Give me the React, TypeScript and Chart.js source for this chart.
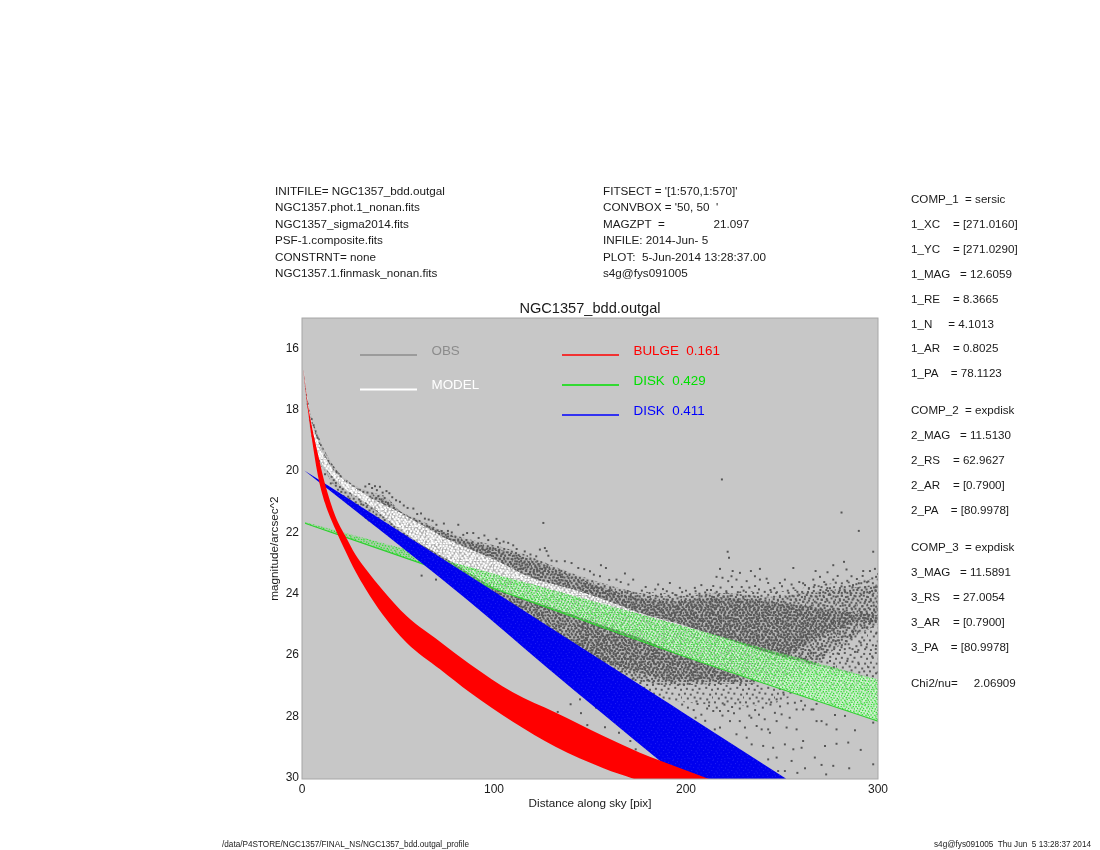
import { useEffect, useRef } from "react";
import { Chart, registerables } from "chart.js";

Chart.register(...registerables);

const xTicks = [0, 100, 200, 300];
const yTicks = [16, 18, 20, 22, 24, 26, 28, 30];

// band edges, distance [pix] vs magnitude/arcsec^2
const obsX = [0.7, 4, 8, 12, 18, 24, 30, 37, 44, 51, 60, 68, 75, 82, 112, 138, 164, 176, 193, 219, 245, 263, 280, 300];
const obsTop = [16.7, 18.0, 18.75, 19.35, 19.95, 20.32, 20.55, 20.7, 20.85, 21.3, 21.55, 21.8, 21.98, 22.13, 22.62, 23.27, 23.8, 23.98, 24.1, 23.98, 24.1, 23.95, 23.85, 23.7];
const obsBottom = [16.8, 18.5, 19.6, 20.0, 20.6, 21.0, 21.4, 21.75, 22.0, 22.3, 22.7, 23.0, 23.3, 23.6, 24.8, 25.8, 26.6, 26.85, 27.0, 26.95, 26.9, 26.5, 25.7, 25.0];
const obsCoreX = [36, 44, 51, 60, 68, 82, 112, 138, 164, 176, 193, 219, 235, 250, 285, 300];
const obsCoreTop = [20.75, 20.95, 21.3, 21.6, 21.85, 22.2, 22.72, 23.35, 23.95, 24.12, 24.25, 24.12, 24.2, 24.3, 24.6, 24.7];
const obsCoreBottom = [21.2, 21.5, 21.75, 22.3, 23.0, 23.6, 24.7, 25.7, 26.4, 26.6, 26.8, 26.8, 26.6, 26.1, 25.0, 24.9];
const obsFaintX = [145, 176, 200, 232, 250, 266, 300];
const obsFaintTop = [23.7, 23.92, 24.0, 23.92, 23.92, 23.75, 23.5];
const obsFaintBottom = [26.6, 27.25, 27.55, 27.65, 27.5, 27.0, 27.4];

const modelX = [1, 4, 8, 15, 22, 29, 35, 48, 65, 75, 103, 120, 138, 155, 176, 197, 249, 300];
const modelTop = [16.75, 18.1, 18.95, 19.85, 20.3, 20.6, 20.85, 21.25, 21.85, 22.2, 22.97, 23.49, 23.81, 24.14, 24.63, 25.0, 26.04, 26.8];
const modelBottom = [16.8, 18.35, 19.45, 20.1, 20.55, 20.85, 21.1, 21.75, 22.5, 22.85, 23.9, 24.25, 24.62, 25.0, 25.45, 26.0, 27.1, 28.16];

const bulgeX = [0.7, 3, 5.2, 8.7, 12, 17.4, 22.6, 27.8, 33.3, 42, 54.5, 71.9, 87.5, 110, 132, 157, 176, 187, 212];
const bulgeTop = [16.7, 17.8, 18.55, 19.55, 20.42, 21.47, 22.12, 22.72, 23.2, 23.88, 24.73, 25.57, 26.3, 27.23, 27.88, 28.65, 29.19, 29.46, 30.05];
const bulgeBottom = [16.74, 17.95, 18.97, 20.27, 21.05, 21.9, 22.61, 23.27, 23.86, 24.68, 25.6, 26.47, 27.23, 28.19, 29.0, 29.7, 30.12, 30.4, 31.0];

const disk1X = [1.6, 103, 197, 300];
const disk1Top = [21.66, 23.4, 25.03, 26.8];
const disk1Bottom = [21.7, 23.9, 26.0, 28.16];

const disk2X = [1.2, 30, 85.7, 127.4, 186.5, 198, 252];
const disk2Top = [19.98, 21.13, 23.36, 25.03, 27.4, 27.86, 30.03];
const disk2Bottom = [19.98, 21.4, 24.18, 26.4, 29.46, 30.05, 32.8];

// single obs pixels that stick out of the dense cloud
const obsInner: [number, number][] = [
  [3, 17.8], [5, 18.3], [6, 18.5], [7, 18.7], [8, 18.9], [9, 19.1], [10, 19.3], [12, 19.55], [14, 19.75], [16, 19.95], [18, 20.05], [20, 20.2], [23, 20.35], [26, 20.5], [29, 20.6], [12, 20.1], [15, 20.4], [18, 20.7], [21, 20.85], [24, 21.05],
];
const obsRidge: [number, number][] = [
  [33, 20.5], [35, 20.42], [36.5, 20.55], [38, 20.49], [39, 20.62], [40.6, 20.51], [42, 20.7], [44, 20.65], [45.5, 20.72], [47, 20.85], [49, 20.95], [51, 21.0], [53, 21.12], [55, 21.2], [58, 21.22], [60, 21.4], [62, 21.38], [64, 21.55], [66, 21.58], [68, 21.62], [70, 21.75], [72.7, 21.96], [73.9, 21.71], [76, 21.95], [78, 22.0], [81.4, 21.75], [84, 22.08], [86, 22.02], [89.2, 22.02], [92, 22.18], [95, 22.1], [97, 22.25], [101.3, 22.21], [103, 22.35], [105, 22.3], [107.4, 22.34], [110, 22.42], [111.8, 22.54], [116, 22.62], [119, 22.72], [122, 22.78], [123.9, 22.56], [126.5, 22.51], [127.4, 22.61], [128.3, 22.76], [125.7, 21.69], [130, 22.92], [132.6, 22.94], [136.9, 22.94], [140.4, 23.0], [143.9, 23.16], [150, 23.27], [155.2, 23.43], [155.7, 23.07], [158.3, 23.16], [163.8, 23.54], [168.2, 23.34], [172.5, 23.54], [147, 23.2], [152, 23.38], [160, 23.55], [166, 23.62], [170, 23.7],
];
const obsAbove: [number, number][] = [
  [221.7, 22.63], [222.4, 22.83], [217.7, 23.19], [224.3, 23.26], [228.1, 23.32], [233.8, 23.26], [238.5, 23.19], [255.9, 23.16], [267.5, 23.26], [273.7, 23.3], [282.3, 22.96], [276.7, 23.07], [297.5, 22.63], [215.9, 23.45], [219, 23.48], [223.7, 23.43], [222, 23.59], [226.3, 23.54], [231.6, 23.59], [235.9, 23.43], [238.5, 23.54], [242, 23.51], [242.8, 23.65], [251.5, 23.54], [248.9, 23.65], [266.3, 23.54], [269.8, 23.45], [276.7, 23.54], [283.6, 23.21], [286.2, 23.43], [292.3, 23.26], [295.8, 23.26], [298.4, 23.19], [185.5, 23.7], [191.6, 23.65], [196.8, 23.81], [204.6, 23.81], [214.2, 23.75], [179, 23.78], [188, 23.85], [200, 23.9], [208, 23.72], [211, 23.88], [229, 23.78], [236, 23.75], [246, 23.82], [255, 23.7], [259, 23.62], [262, 23.72], [272, 23.62], [279, 23.42], [289, 23.52], [293, 23.6], [299, 23.45],
  [177, 23.9], [181, 23.98], [184, 23.86], [187, 24.02], [190, 23.92], [193, 23.98], [195, 24.05], [198, 23.95], [202, 24.02], [205, 23.92], [207, 24.0], [210, 23.96], [213, 23.88], [216, 23.94], [218, 23.8], [221, 23.92], [224, 23.78], [227, 23.95], [230, 23.9], [233, 23.8], [235, 23.98], [238, 23.86], [241, 23.94], [244, 23.88], [247, 23.98], [250, 23.76], [253, 23.9], [256, 23.82], [258, 23.94], [261, 23.66], [264, 23.84], [267, 23.72], [270, 23.88], [273, 23.7], [275, 23.82], [278, 23.64], [281, 23.76], [284, 23.58], [287, 23.72], [290, 23.66], [292, 23.42], [295, 23.6], [297, 23.5], [300, 23.36],
];
const obsRightSide: [number, number][] = [
  [276, 24.95], [279, 25.3], [282, 25.1], [284, 24.95], [287, 25.25], [289, 25.0], [291, 24.6], [293, 25.1], [295, 24.75], [297, 24.9], [299, 25.3], [298, 24.55], [278, 25.55], [281, 25.75], [283, 25.65], [286, 25.4], [288, 25.9], [291, 25.6], [294, 25.75], [297, 26.05], [299, 25.7], [272, 26.0], [275, 26.2], [268, 26.05], [279, 25.95], [284, 26.2], [290, 26.3], [295, 26.4], [299, 26.6], [277, 26.4], [271, 25.7], [265, 25.95],
];
const obsBelow: [number, number][] = [
  [266.3, 27.78], [270.6, 28.16], [268, 28.16], [273.2, 28.27], [278.4, 28.43], [288, 28.46], [297.5, 28.21], [282.8, 27.99], [277.6, 27.96], [261, 28.81], [261, 27.78], [254, 28.05], [249.8, 27.94], [246.3, 27.89], [242.8, 28.43], [243.7, 28.54], [239.4, 28.43], [236.8, 28.32], [230.7, 28.37], [228, 28.16], [222.9, 28.16], [217.7, 28.37], [215, 28.43], [222, 27.83], [217.7, 27.83], [214.2, 27.83], [226.3, 28.59], [231.6, 28.7], [234.2, 28.92], [240.2, 28.97], [245.4, 29.03], [251.5, 28.92], [255.9, 29.08], [260.2, 29.03], [272.4, 28.97], [278.4, 28.9], [267.1, 29.35], [270.6, 29.59], [276.7, 29.62], [284.5, 28.86], [297.5, 29.57], [242.8, 29.41], [247.2, 29.35], [248, 29.79], [251.5, 29.79], [255, 29.46], [247.2, 28.16], [252.4, 28.37], [257.6, 28.43], [256.7, 27.56], [250.7, 27.23], [247.2, 27.45], [257.6, 27.78], [265.4, 27.78], [271.5, 27.23],
  [204, 27.8], [208, 27.95], [211, 27.75], [219, 27.98], [225, 27.9], [234, 28.05], [238, 27.95], [241, 28.1], [210, 28.15], [205, 28.05], [233, 27.98], [260, 27.5], [262, 27.65], [268, 27.6], [299.5, 27.9], [291, 29.1], [285, 29.7], [262, 29.7], [258, 29.85], [273, 29.9],
  [198, 27.62], [201, 27.72], [206, 27.6], [212, 27.66], [216, 27.72], [220, 27.62], [224, 27.7], [228, 27.75], [232, 27.68], [236, 27.8], [240, 27.72], [244, 27.62], [249, 27.68], [253, 27.58],
];
const obsStray: [number, number][] = [
  [62.3, 23.41], [69.8, 23.54], [133.2, 27.86], [139.9, 27.61], [144.8, 27.45], [145.3, 27.9], [148.6, 28.29], [157.8, 28.36], [153.1, 27.72], [165.1, 28.54], [171, 28.81], [173.8, 29.08], [218.7, 20.27], [281, 21.35], [290, 21.95],
];

const legendRows = [
  { label: "OBS", color: "#8c8c8c", width: 1.4, col: 0, row: 0 },
  { label: "MODEL", color: "#ffffff", width: 2, col: 0, row: 1 },
  { label: "BULGE  0.161", color: "#ff0000", width: 1.4, col: 1, row: 0 },
  { label: "DISK  0.429", color: "#00e000", width: 1.4, col: 1, row: 1 },
  { label: "DISK  0.411", color: "#0000ff", width: 1.4, col: 1, row: 2 },
];

const headerLeft = ["INITFILE= NGC1357_bdd.outgal", "NGC1357.phot.1_nonan.fits", "NGC1357_sigma2014.fits", "PSF-1.composite.fits", "CONSTRNT= none", "NGC1357.1.finmask_nonan.fits"];
const headerRight = ["FITSECT = '[1:570,1:570]'", "CONVBOX = '50, 50  '", "MAGZPT  =               21.097", "INFILE: 2014-Jun- 5", "PLOT:  5-Jun-2014 13:28:37.00", "s4g@fys091005"];
const comp1 = ["COMP_1  = sersic", "1_XC    = [271.0160]", "1_YC    = [271.0290]", "1_MAG   = 12.6059", "1_RE    = 8.3665", "1_N     = 4.1013", "1_AR    = 0.8025", "1_PA    = 78.1123"];
const comp2 = ["COMP_2  = expdisk", "2_MAG   = 11.5130", "2_RS    = 62.9627", "2_AR    = [0.7900]", "2_PA    = [80.9978]"];
const comp3 = ["COMP_3  = expdisk", "3_MAG   = 11.5891", "3_RS    = 27.0054", "3_AR    = [0.7900]", "3_PA    = [80.9978]"];
const chiLine = ["Chi2/nu=     2.06909"];

const FONT = "'Liberation Sans', Arial, sans-serif";

// small repeating speckle so the bands look like clouds of pixels
const SPECKLE = [[1, 2], [7, 1], [13, 3], [20, 0], [27, 2], [4, 6], [10, 7], [17, 6], [24, 5], [30, 7], [2, 11], [8, 12], [15, 10], [21, 11], [28, 12], [5, 16], [12, 15], [18, 16], [25, 17], [31, 15], [1, 20], [9, 21], [14, 19], [22, 21], [27, 20], [4, 25], [11, 24], [19, 26], [24, 25], [30, 24], [7, 29], [15, 29], [21, 30], [28, 29], [2, 30], [12, 28]];

function speckle(base: string, dot: string, side: number, dotSize: number) {
  const tile = document.createElement("canvas");
  tile.width = side;
  tile.height = side;
  const ctx = tile.getContext("2d")!;
  ctx.fillStyle = base;
  ctx.fillRect(0, 0, side, side);
  ctx.fillStyle = dot;
  SPECKLE.forEach(([x, y]) => {
    ctx.fillRect((x * side) / 32, (y * side) / 32, dotSize, dotSize);
  });
  return ctx.createPattern(tile, "repeat")!;
}

function toPoints(xs: number[], ys: number[]) {
  return xs.map((x, i) => ({ x, y: ys[i] }));
}

// two line datasets with the fill between them
function band(name: string, xs: number[], top: number[], bottom: number[], fill: any, order: number, edge = "transparent") {
  const common = { pointRadius: 0, cubicInterpolationMode: "monotone", order };
  return [
    { label: name, data: toPoints(xs, top), fill: "+1", backgroundColor: fill, borderColor: "transparent", borderWidth: 0, ...common },
    { label: name + " edge", data: toPoints(xs, bottom), fill: false, borderColor: edge, borderWidth: edge === "transparent" ? 0 : 1.2, ...common },
  ];
}

const plotFrame = {
  id: "plotFrame",
  beforeDraw(chart: any) {
    const { ctx, chartArea: a } = chart;
    ctx.save();
    ctx.fillStyle = "#c7c7c7";
    ctx.fillRect(a.left, a.top, a.right - a.left, a.bottom - a.top);
    ctx.restore();
  },
  afterDraw(chart: any) {
    const { ctx, chartArea: a } = chart;
    ctx.save();
    ctx.strokeStyle = "#a6a6a6";
    ctx.lineWidth = 1;
    ctx.strokeRect(a.left, a.top, a.right - a.left, a.bottom - a.top);
    ctx.restore();
  },
};

const legendInPlot = {
  id: "legendInPlot",
  afterDraw(chart: any) {
    const { ctx, chartArea: a } = chart;
    ctx.save();
    ctx.font = `13.4px ${FONT}`;
    ctx.textBaseline = "middle";
    legendRows.forEach((r) => {
      const lineLeft = a.left + (r.col === 0 ? 58 : 260);
      const rowStep = r.col === 0 ? 34.5 : 30;
      const lineY = a.top + 37 + r.row * rowStep;
      ctx.strokeStyle = r.color;
      ctx.lineWidth = r.width;
      ctx.beginPath();
      ctx.moveTo(lineLeft, lineY);
      ctx.lineTo(lineLeft + 57, lineY);
      ctx.stroke();
      ctx.fillStyle = r.color;
      ctx.fillText(r.label, lineLeft + 71.5, lineY - 4);
    });
    ctx.restore();
  },
};

function TextBlock({ lines, left, top, step, size = 11.7 }: { lines: string[]; left: number; top: number; step: number; size?: number }) {
  return (
    <>
      {lines.map((line, i) => (
        <div
          key={line}
          style={{
            position: "absolute",
            left,
            top: top + i * step - 8,
            height: 16,
            lineHeight: "16px",
            fontFamily: FONT,
            fontSize: size,
            color: "#1a1a1a",
            whiteSpace: "pre",
          }}
        >
          {line}
        </div>
      ))}
    </>
  );
}

export default function App() {
  const chartRef = useRef<HTMLCanvasElement>(null);

  useEffect(() => {
    if (!chartRef.current) return;
    const obsDots = [...obsInner, ...obsRidge, ...obsAbove, ...obsRightSide, ...obsBelow, ...obsStray].map(([x, y]) => ({ x, y }));

    const chart = new Chart(chartRef.current, {
      type: "line",
      data: {
        datasets: [
          ...band("BULGE", bulgeX, bulgeTop, bulgeBottom, "#ff0000", 1),
          ...band("DISK 0.411", disk2X, disk2Top, disk2Bottom, speckle("#0000ee", "rgba(120,120,255,0.3)", 20, 1), 2),
          ...band("DISK 0.429", disk1X, disk1Top, disk1Bottom, speckle("rgba(90,230,90,0.28)", "#30dc30", 15, 1.3), 3, "#2ccc2c"),
          ...band("MODEL", modelX, modelTop, modelBottom, speckle("rgba(255,255,255,0.5)", "#ffffff", 17, 2), 4),
          { label: "OBS", data: obsDots, showLine: false, pointStyle: "rect", pointRadius: 1.4, pointBackgroundColor: "#555555", pointBorderWidth: 0, order: 5 },
          ...band("OBS core", obsCoreX, obsCoreTop, obsCoreBottom, speckle("rgba(85,85,85,0.1)", "#585858", 19, 2), 6),
          ...band("OBS cloud", obsX, obsTop, obsBottom, speckle("rgba(85,85,85,0.08)", "#5a5a5a", 22, 2), 7),
          ...band("OBS faint", obsFaintX, obsFaintTop, obsFaintBottom, speckle("rgba(0,0,0,0)", "#5c5c5c", 31, 2), 8),
        ] as any,
      },
      plugins: [plotFrame, legendInPlot],
      options: {
        responsive: false,
        animation: false,
        layout: { padding: { top: 300.5, right: 222, left: 268, bottom: 39 } },
        plugins: {
          legend: { display: false },
          tooltip: { enabled: false },
          title: {
            display: true,
            fullSize: false,
            text: "NGC1357_bdd.outgal",
            color: "#1a1a1a",
            font: { family: FONT, size: 14.6, weight: "normal" },
            padding: 0,
          },
        },
        scales: {
          x: {
            type: "linear",
            min: 0,
            max: 300,
            grid: { display: false, drawTicks: false },
            border: { display: false },
            afterBuildTicks: (axis: any) => {
              axis.ticks = xTicks.map((value) => ({ value }));
            },
            afterFit: (axis: any) => {
              axis.height = 32;
            },
            ticks: { color: "#1a1a1a", font: { family: FONT, size: 12 }, padding: 3, maxRotation: 0 },
            title: { display: true, text: "Distance along sky [pix]", color: "#1a1a1a", font: { family: FONT, size: 11.7 }, padding: 0 },
          },
          y: {
            type: "linear",
            reverse: true,
            min: 15,
            max: 30.05,
            grid: { display: false, drawTicks: false },
            border: { display: false },
            afterBuildTicks: (axis: any) => {
              axis.ticks = yTicks.map((value) => ({ value }));
            },
            afterFit: (axis: any) => {
              axis.width = 34;
            },
            ticks: { color: "#1a1a1a", font: { family: FONT, size: 12 }, padding: 3 },
            title: { display: true, text: "magnitude/arcsec^2", color: "#1a1a1a", font: { family: FONT, size: 11.7 }, padding: 0 },
          },
        },
      },
    });

    return () => {
      chart.destroy();
    };
  }, []);

  return (
    <div style={{ position: "absolute", left: 0, top: 0, width: 1100, height: 850, background: "#ffffff", overflow: "hidden" }}>
      <canvas ref={chartRef} width={1100} height={850} style={{ position: "absolute", left: 0, top: 0, width: 1100, height: 850 }} />
      <TextBlock lines={headerLeft} left={275} top={191} step={16.4} />
      <TextBlock lines={headerRight} left={603} top={191} step={16.4} />
      <TextBlock lines={comp1} left={911} top={199} step={24.9} size={11.6} />
      <TextBlock lines={comp2} left={911} top={410} step={25} size={11.6} />
      <TextBlock lines={comp3} left={911} top={547} step={24.9} size={11.6} />
      <TextBlock lines={chiLine} left={911} top={683} step={25} size={11.6} />
      <TextBlock lines={["/data/P4STORE/NGC1357/FINAL_NS/NGC1357_bdd.outgal_profile"]} left={222} top={845} step={0} size={8.2} />
      <TextBlock lines={["s4g@fys091005  Thu Jun  5 13:28:37 2014"]} left={934} top={845} step={0} size={8.2} />
    </div>
  );
}
